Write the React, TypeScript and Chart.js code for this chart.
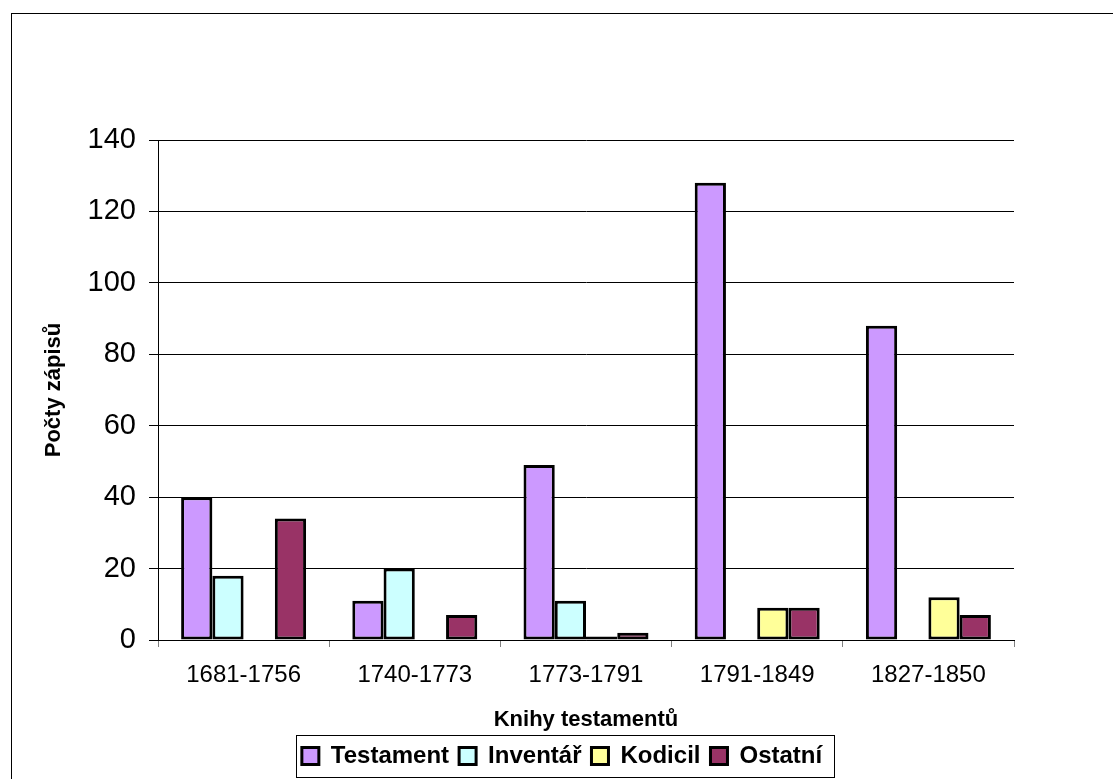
import React, { useEffect, useRef } from "react";
import { Chart, registerables } from "chart.js";

Chart.register(...registerables);

const categories = ["1681-1756", "1740-1773", "1773-1791", "1791-1849", "1827-1850"];
const testament = [40, 11, 49, 128, 88];
const inventar = [18, 20, 11, 0, 0];
const kodicil = [0, 0, 1, 9, 12];
const ostatni = [34, 7, 2, 9, 7];
const yTicks = [0, 20, 40, 60, 80, 100, 120, 140];

const FONT = "'Liberation Sans', Arial, sans-serif";

const legendFrame = {
  id: "legendFrame",
  afterDraw(chart: any) {
    const L = chart.legend;
    if (!L || !L.legendHitBoxes || !L.legendHitBoxes.length) return;
    const boxes = L.legendHitBoxes;
    let minL = Infinity, maxR = -Infinity, cy = 0;
    boxes.forEach((b: any) => {
      minL = Math.min(minL, b.left);
      maxR = Math.max(maxR, b.left + b.width);
      cy = b.top + b.height / 2;
    });
    const ctx = chart.ctx;
    ctx.save();
    ctx.strokeStyle = "#000";
    ctx.lineWidth = 1;
    ctx.strokeRect(Math.round(minL - 6) + 0.5, Math.round(cy - 21) + 0.5, Math.round(maxR - minL + 18), 42);
    ctx.restore();
  },
};

export default function App() {
  const ref = useRef<HTMLCanvasElement | null>(null);
  useEffect(() => {
    if (!ref.current) return;
    Chart.defaults.font.family = FONT;
    const mk = (label: string, data: number[], color: string) => ({
      label,
      data,
      backgroundColor: color,
      borderColor: "#000",
      borderWidth: 3,
      borderSkipped: false as any,
      categoryPercentage: 0.73,
      barPercentage: 1,
    });
    const chart = new Chart(ref.current, {
      type: "bar",
      data: {
        labels: categories,
        datasets: [
          mk("Testament", testament, "#CC99FF"),
          mk("Inventář", inventar, "#CCFFFF"),
          mk("Kodicil", kodicil, "#FFFF99"),
          mk("Ostatní", ostatni, "#993366"),
        ],
      },
      options: {
        animation: false,
        responsive: false,
        devicePixelRatio: 1,
        layout: { padding: { top: 140, left: 0, right: 0, bottom: 0 } },
        plugins: {
          tooltip: { enabled: false },
          legend: {
            position: "bottom",
            labels: {
              font: { family: FONT, size: 24, weight: "bold" },
              color: "#000",
              boxWidth: 17,
              boxHeight: 17,
              padding: 10,
            },
          },
        },
        scales: {
          x: {
            type: "category",
            offset: true,
            grid: { display: true, drawOnChartArea: false, drawTicks: true, tickLength: 7, color: "#808080" },
            border: { display: true, color: "#000" },
            ticks: { font: { family: FONT, size: 24 }, color: "#000", padding: 14, maxRotation: 0 },
            title: {
              display: true,
              text: "Knihy testamentů",
              font: { family: FONT, size: 22, weight: "bold" },
              color: "#000",
              padding: { top: 0, bottom: 1 },
            },
            afterFit: (s: any) => { s.height = 94; },
          },
          y: {
            type: "linear",
            min: 0,
            max: 140,
            afterBuildTicks: (s: any) => { s.ticks = yTicks.map((v) => ({ value: v })); },
            ticks: { font: { family: FONT, size: 29 }, color: "#000", padding: 13 },
            grid: { color: "#000", lineWidth: 1, tickLength: 9, drawTicks: true },
            border: { display: true, color: "#000" },
            title: {
              display: true,
              text: "Počty zápisů",
              font: { family: FONT, size: 22, weight: "bold" },
              color: "#000",
              padding: { top: 41, bottom: 0 },
            },
            afterFit: (s: any) => { s.width = 158; },
          },
          y2: {
            type: "linear",
            position: "right",
            display: true,
            grid: { display: false, drawTicks: false },
            ticks: { display: false },
            border: { display: false },
            afterFit: (s: any) => { s.width = 110; },
          },
        },
      } as any,
      plugins: [legendFrame],
    });
    return () => chart.destroy();
  }, []);

  return (
    <div style={{ position: "fixed", left: 0, top: 0, width: 1113, height: 779, overflow: "hidden", background: "#fff" }}>
      <div style={{ position: "absolute", left: 11, top: 13, width: 1200, height: 900, border: "1px solid #000" }} />
      <canvas ref={ref} width={1124} height={778} style={{ position: "absolute", left: 0, top: 0, width: 1124, height: 778 }} />
    </div>
  );
}
